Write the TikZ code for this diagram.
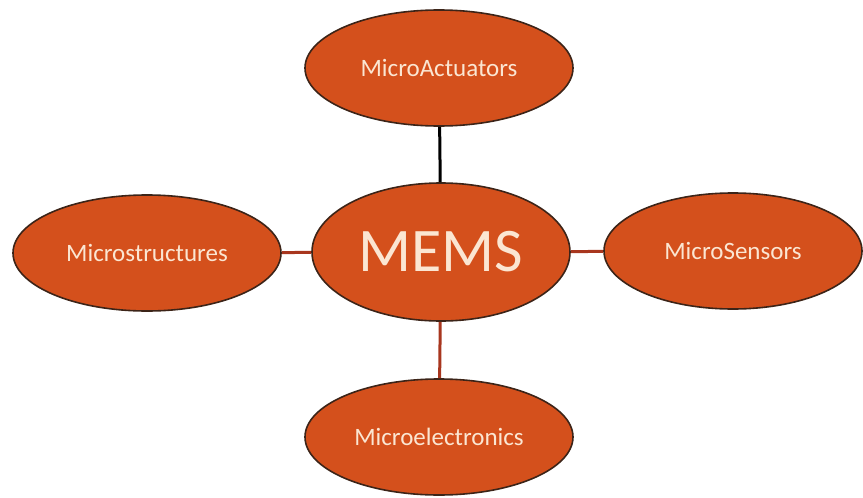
\documentclass[tikz,border=0pt]{standalone}
\usepackage{fontspec}
\setmainfont{Carlito}
\usetikzlibrary{shapes.geometric}
\definecolor{ovalfill}{HTML}{D4501C}
\definecolor{ovaledge}{HTML}{3C2418}
\definecolor{ovaltext}{HTML}{FBE6D2}
\definecolor{linkred}{HTML}{A8361E}
\tikzset{
  oval/.style={ellipse, draw=ovaledge, line width=0.8pt, fill=ovalfill, inner sep=0pt,
    text=ovaltext, font=\fontsize{12.5}{14}\selectfont},
  link/.style={line width=1.5pt, draw=linkred},
}
\begin{document}
\begin{tikzpicture}[x=0.5pt,y=-0.5pt]
\useasboundingbox (0,0) rectangle (863,498);
\node[oval, minimum width=134pt, minimum height=58pt] (act) at (439,68) {MicroActuators};
\node[oval, minimum width=129pt, minimum height=69pt, font=\fontsize{31}{36}\selectfont] (mems) at (441,252) {MEMS};
\node[oval, minimum width=134pt, minimum height=58pt] (str) at (147,253) {Microstructures};
\node[oval, minimum width=129pt, minimum height=58pt] (sen) at (733,251) {MicroSensors};
\node[oval, minimum width=134pt, minimum height=58pt] (ele) at (439,437) {Microelectronics};
\draw[link, draw=black] (act) -- (mems);
\draw[link] (str) -- (mems);
\draw[link] (mems) -- (sen);
\draw[link] (mems) -- (ele);
\end{tikzpicture}
\end{document}
